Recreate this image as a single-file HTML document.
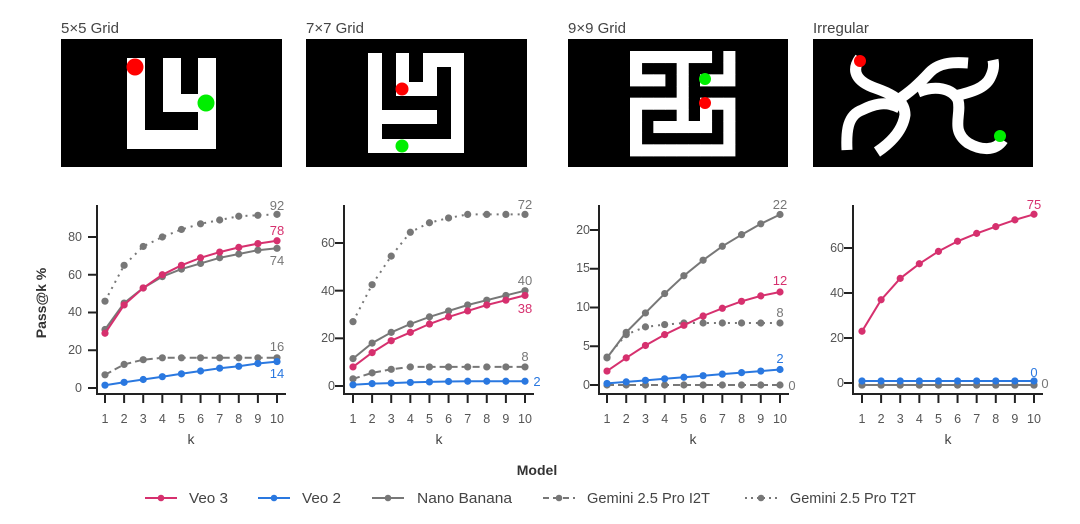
<!DOCTYPE html>
<html><head><meta charset="utf-8">
<style>
html,body{margin:0;padding:0;background:#fff;}
svg{display:block;font-family:"Liberation Sans","DejaVu Sans",sans-serif;}
.t{font-size:15px;fill:#444;}
.tk{font-size:12.5px;fill:#555;}
.lb{font-size:13px;fill:#555;}
</style></head><body>
<svg id="s" width="1080" height="524" viewBox="0 0 1080 524" xmlns="http://www.w3.org/2000/svg">
<rect width="1080" height="524" fill="#fff"/>
<text class="t" x="61" y="33">5×5 Grid</text>
<text class="t" x="306" y="33">7×7 Grid</text>
<text class="t" x="568" y="33">9×9 Grid</text>
<text class="t" x="813" y="33">Irregular</text>
<rect x="61" y="39" width="221" height="128" fill="#000"/>
<rect x="127" y="58" width="89" height="91" fill="#fff"/>
<rect x="145" y="58" width="18" height="72" fill="#000"/>
<rect x="181" y="58" width="17" height="36" fill="#000"/>
<rect x="145" y="112" width="53" height="18" fill="#000"/>
<circle cx="135" cy="67" r="8.5" fill="#f00"/>
<circle cx="206" cy="103" r="8.5" fill="#0e0"/>
<rect x="306" y="39" width="221" height="128" fill="#000"/>
<rect x="368" y="53" width="96" height="100" fill="#fff"/>
<rect x="382" y="53" width="14" height="43" fill="#000"/>
<rect x="409" y="53" width="14" height="29" fill="#000"/>
<rect x="382" y="96" width="69" height="14" fill="#000"/>
<rect x="437" y="67" width="14" height="57" fill="#000"/>
<rect x="382" y="124" width="69" height="15" fill="#000"/>
<circle cx="402" cy="89" r="6.5" fill="#f00"/>
<circle cx="402" cy="146" r="6.5" fill="#0e0"/>
<rect x="568" y="39" width="220" height="128" fill="#000"/>
<g id="m9"></g>
<circle cx="705" cy="79" r="6" fill="#0e0"/>
<circle cx="705" cy="103" r="6" fill="#f00"/>
<rect x="813" y="39" width="220" height="128" fill="#000"/>
<g fill="none" stroke="#fff" stroke-width="11" stroke-linecap="butt" stroke-linejoin="round">
<path d="M860 58 C850 72 858 82 875 88 C895 95 905 102 905 115 C903 128 895 140 877 152"/>
<path d="M900 108 C885 100 872 105 862 110 C848 115 846 130 847 150"/>
<path d="M895 102 C910 92 918 85 930 72 C940 62 955 62 968 63"/>
<path d="M918 92 C935 85 952 88 958 100 C962 115 950 130 968 143 C980 150 995 152 1003 140"/>
<path d="M955 96 C972 92 985 88 990 78 C994 70 994 65 993 60"/>
</g>
<circle cx="860" cy="61" r="6" fill="#f00"/>
<circle cx="1000" cy="136" r="6" fill="#0e0"/>

<g id="plots"></g>

<g class="tk" text-anchor="end">
<text x="82" y="392">0</text><text x="82" y="354">20</text><text x="82" y="316">40</text><text x="82" y="279">60</text><text x="82" y="241">80</text>
<text x="335" y="390">0</text><text x="335" y="342">20</text><text x="335" y="295">40</text><text x="335" y="247">60</text>
<text x="590" y="389">0</text><text x="590" y="350">5</text><text x="590" y="311">10</text><text x="590" y="272">15</text><text x="590" y="234">20</text>
<text x="844" y="387">0</text><text x="844" y="342">20</text><text x="844" y="297">40</text><text x="844" y="252">60</text>
</g>
<g class="tk" text-anchor="middle" id="xl"></g>
<g class="t" text-anchor="middle" style="font-size:14px">
<text x="191" y="444">k</text><text x="439" y="444">k</text><text x="693" y="444">k</text><text x="948" y="444">k</text>
</g>
<text x="46" y="303" transform="rotate(-90 46 303)" text-anchor="middle" style="font-size:14px;font-weight:bold;fill:#333">Pass@k %</text>

<g class="lb" text-anchor="middle">
<text x="277" y="210" fill="#777">92</text>
<text x="277" y="235" fill="#d6306e">78</text>
<text x="277" y="265" fill="#777">74</text>
<text x="277" y="351" fill="#777">16</text>
<text x="277" y="378" fill="#2a78e0">14</text>
<text x="525" y="209" fill="#777">72</text>
<text x="525" y="285" fill="#777">40</text>
<text x="525" y="313" fill="#d6306e">38</text>
<text x="525" y="361" fill="#777">8</text>
<text x="537" y="386" fill="#2a78e0">2</text>
<text x="780" y="209" fill="#777">22</text>
<text x="780" y="285" fill="#d6306e">12</text>
<text x="780" y="317" fill="#777">8</text>
<text x="780" y="363" fill="#2a78e0">2</text>
<text x="792" y="390" fill="#777">0</text>
<text x="1034" y="209" fill="#d6306e">75</text>
<text x="1034" y="377" fill="#2a78e0">0</text>
<text x="1045" y="388" fill="#777">0</text>
</g>

<text x="537" y="475" text-anchor="middle" style="font-size:14px;font-weight:bold;fill:#333">Model</text>
<g id="leg"></g>
<g style="font-size:15px;fill:#444">
<text x="189" y="503" textLength="39" lengthAdjust="spacingAndGlyphs">Veo 3</text>
<text x="302" y="503" textLength="39" lengthAdjust="spacingAndGlyphs">Veo 2</text>
<text x="417" y="503" textLength="95" lengthAdjust="spacingAndGlyphs">Nano Banana</text>
<text x="587" y="503" textLength="123" lengthAdjust="spacingAndGlyphs">Gemini 2.5 Pro I2T</text>
<text x="790" y="503" textLength="126" lengthAdjust="spacingAndGlyphs">Gemini 2.5 Pro T2T</text>
</g>
</svg>
<script>
var NS="http://www.w3.org/2000/svg";
function el(p,t,a){var e=document.createElementNS(NS,t);for(var k in a)e.setAttribute(k,a[k]);p.appendChild(e);return e;}
var g9=document.getElementById("m9");
var rows=["#######.#","#...#...#","###.#.###","....#....","#####.###","#...#.#.#","#.#####.#","#.......#","#########"];
var cs=105/9;
for(var r=0;r<9;r++)for(var c=0;c<9;c++)if(rows[r][c]=="#")el(g9,"rect",{x:630+c*cs,y:51+r*cs,width:cs+0.4,height:cs+0.4,fill:"#fff"});
var P="#d6306e",B="#2a78e0",G="#777";
var panels=[
{ax:97,k1:105,k10:277,y0:388,sc:151/80,ticks:[0,20,40,60,80],
 s:[[G,"2,5",[46,65,75,80,84,87,89,91,91.5,92]],[G,"7,4",[7,12.5,15,16,16,16,16,16,16,16]],[G,"",[31,45,53,59,63,66,69,71,73,74]],[B,"",[1.5,3,4.5,6,7.5,9,10.5,11.5,13,14]],[P,"",[29,44,53,60,65,69,72,74.5,76.5,78]]]},
{ax:344,k1:353,k10:525,y0:386,sc:143/60,ticks:[0,20,40,60],
 s:[[G,"2,5",[27,42.5,54.5,64.5,68.5,70.5,72,72,72,72]],[G,"7,4",[3,5.5,7,8,8,8,8,8,8,8]],[G,"",[11.5,18,22.5,26,29,31.5,34,36,38,40]],[B,"",[0.5,1,1.2,1.5,1.7,1.9,2,2,2,2]],[P,"",[8,14,19,22.5,26,29,31.5,34,36,38]]]},
{ax:599,k1:607,k10:780,y0:385,sc:155/20,ticks:[0,5,10,15,20],
 s:[[G,"7,4",[0,0,0,0,0,0,0,0,0,0]],[G,"2,5",[3.6,6.5,7.5,7.8,8,8,8,8,8,8]],[G,"",[3.5,6.8,9.3,11.8,14.1,16.1,17.9,19.4,20.8,22]],[B,"",[0.2,0.4,0.6,0.8,1,1.2,1.4,1.6,1.8,2]],[P,"",[1.8,3.5,5.1,6.5,7.7,8.9,9.9,10.8,11.5,12]]]},
{ax:853,k1:862,k10:1034,y0:383,sc:135/60,ticks:[0,20,40,60],
 s:[[G,"7,4",[-0.9,-0.9,-0.9,-0.9,-0.9,-0.9,-0.9,-0.9,-0.9,-0.9]],[G,"",[-0.9,-0.9,-0.9,-0.9,-0.9,-0.9,-0.9,-0.9,-0.9,-0.9]],[B,"",[0.9,0.9,0.9,0.9,0.9,0.9,0.9,0.9,0.9,0.9]],[P,"",[23,37,46.5,53,58.5,63,66.5,69.5,72.5,75]]]}
];
var gp=document.getElementById("plots"),xl=document.getElementById("xl");
panels.forEach(function(p){
 var dx=(p.k10-p.k1)/9, xend=p.k10+9;
 el(gp,"line",{x1:p.ax,y1:205,x2:p.ax,y2:395,stroke:"#222","stroke-width":2});
 el(gp,"line",{x1:p.ax-1,y1:394,x2:xend,y2:394,stroke:"#222","stroke-width":2});
 p.ticks.forEach(function(t){var y=p.y0-t*p.sc;el(gp,"line",{x1:p.ax-9,y1:y,x2:p.ax,y2:y,stroke:"#222","stroke-width":2});});
 for(var i=0;i<10;i++){var x=p.k1+i*dx;el(gp,"line",{x1:x,y1:394,x2:x,y2:403,stroke:"#222","stroke-width":2});
  var t=el(xl,"text",{x:x,y:423});t.textContent=String(i+1);}
 p.s.forEach(function(s){
  var pts=s[2].map(function(v,i){return (p.k1+i*dx).toFixed(1)+","+(p.y0-v*p.sc).toFixed(1);});
  var a={points:pts.join(" "),fill:"none",stroke:s[0],"stroke-width":2};
  if(s[1])a["stroke-dasharray"]=s[1];
  el(gp,"polyline",a);
  s[2].forEach(function(v,i){el(gp,"circle",{cx:p.k1+i*dx,cy:p.y0-v*p.sc,r:3.6,fill:s[0]});});
 });
});
var lg=document.getElementById("leg");
[[145,P,""],[258,B,""],[372,G,""],[543,G,"6,4"],[745,G,"2,4"]].forEach(function(l){
 var a={x1:l[0],y1:498,x2:l[0]+32,y2:498,stroke:l[1],"stroke-width":2};if(l[2])a["stroke-dasharray"]=l[2];
 el(lg,"line",a);el(lg,"circle",{cx:l[0]+16,cy:498,r:3.3,fill:l[1]});
});
</script>
</body></html>
